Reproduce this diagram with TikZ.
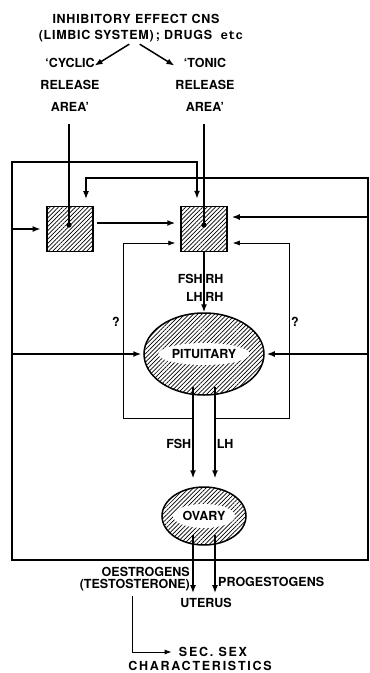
\documentclass[tikz,border=0pt]{standalone}
\usepackage{fontspec}
\setmainfont{TeX Gyre Heros}
\setmonofont{Liberation Mono}
\usetikzlibrary{positioning,arrows.meta,shapes.geometric,patterns.meta}

\begin{document}
\begin{tikzpicture}[
    x=1pt,
    y=-1pt,
    font=\bfseries\fontsize{12.5}{15}\selectfont,
    txt/.style={
        align=center,
        inner sep=1pt,
        font=\bfseries\fontsize{12.5}{#1}\selectfont
    },
    txt/.default=15,
    spaced/.style={
        txt,
        font=\bfseries\fontsize{12.5}{15}\selectfont\addfontfeatures{LetterSpace=#1}
    },
    area/.style={
        rectangle,
        draw=black,
        line width=1.5pt,
        minimum width=46pt,
        minimum height=45pt,
        pattern={Lines[angle=45,distance=3pt,line width=0.7pt]}
    },
    gland/.style={
        ellipse,
        draw=black,
        line width=1.5pt,
        inner sep=0pt,
        pattern={Lines[angle=45,distance=3pt,line width=0.7pt]}
    },
    clear/.style={
        ellipse,
        fill=white,
        inner sep=0pt
    },
    arrow/.style={
        -{Latex[length=8pt,width=6pt]},
        line width=1.5pt
    },
    thinarrow/.style={
        -{Latex[length=7pt,width=5pt]},
        line width=0.7pt
    }
]

\useasboundingbox (0,0) rectangle (370,673);

% Higher centres and release areas
\node[txt=16, font=\bfseries\fontsize{12.5}{16}\selectfont\addfontfeatures{LetterSpace=6}] (inhib) at (141,28)
    {\hspace*{-10pt}INHIBITORY EFFECT CNS\\(LIMBIC SYSTEM)\,; DRUGS\ \ {\ttfamily etc}};
\node[txt=22] (cyclic) at (70,85) {`CYCLIC\\RELEASE\\AREA'};
\node[txt=22] (tonic) at (205,85) {`TONIC\\RELEASE\\AREA'};

\node[area] (cycbox) at (70,229) {};
\node[area] (tonbox) at (204,229) {};
\coordinate (cycdot) at (69,225);
\coordinate (tondot) at (204,225);

% Glands
\node[gland, minimum width=120pt, minimum height=82pt] (pituitary) at (204,354) {};
\node[clear, minimum width=88pt, minimum height=22pt] (pitlabel) at (pituitary) {PITUITARY};
\node[gland, minimum width=84pt, minimum height=58pt] (ovary) at (204,516) {};
\node[clear, minimum width=62pt, minimum height=24pt] (ovlabel) at (ovary) {OVARY};

% Targets
\node[txt] (uterus) at (206,603) {UTERUS};
\node[txt=12, align=right, anchor=east] (oestro) at (191,579) {OESTROGENS\\(TESTOSTERONE)};
\node[txt, anchor=west] (progest) at (217,582) {PROGESTOGENS};
\node[spaced=14] (secsex) at (213,652) {SEC.\ SEX};
\node[spaced=14] (chars) at (200,666) {CHARACTERISTICS};
\node[txt] (qmarkl) at (116,322) {?};
\node[txt] (qmarkr) at (295,322) {?};

% Frame corners and helper points
\coordinate (ftl) at (12,162);
\coordinate (ftr) at (368,178);
\coordinate (fbl) at (12,560);
\coordinate (fbr) at (368,560);
\coordinate (loopl) at (123,418);
\coordinate (loopr) at (289,418);
\coordinate (fshx) at (193,387);
\coordinate (lhx) at (215,387);
\coordinate (fsho) at (193,535);
\coordinate (lho) at (215,535);
\coordinate (secturn) at (132,648);
\coordinate (tonin) at ([yshift=12pt]tonbox.east);
\coordinate (tonlw) at ([yshift=-14pt]tonbox.west);
\coordinate (tonle) at ([yshift=-14pt]tonbox.east);

% Inhibition and release areas
\draw[arrow, shorten <=2pt, shorten >=1pt] ([xshift=-10pt]inhib.south) -- ([xshift=-7pt,yshift=-9pt]cyclic.north east);
\draw[arrow, shorten <=2pt, shorten >=1pt] ([xshift=-3pt]inhib.south) -- ([xshift=1pt,yshift=-9pt]tonic.north west);
\draw[line width=1.5pt, shorten <=11pt] (cyclic.south -| cycdot) -- (cycdot);
\fill (cycdot) circle (2.6pt);
\draw[line width=1.5pt, shorten <=11pt] (tonic.south -| tondot) -- (tondot);
\fill (tondot) circle (2.6pt);

% Steroid feedback frame
\draw[arrow, line cap=rect, shorten >=7pt] (ftr) -- (fbr) -- (fbl) -- (ftl) -| ([xshift=-7pt]tonbox.north);
\draw[arrow, line cap=rect, shorten >=7pt] (ftr) -| ([xshift=16pt]cycbox.north);
\draw[arrow, shorten >=6pt] (cycbox.west -| fbl) -- (cycbox.west);
\draw[arrow, shorten >=4pt] (tonin -| fbr) -- (tonin);
\draw[arrow, shorten >=2pt] (pituitary.west -| fbl) -- (pituitary.west);
\draw[arrow, shorten >=2pt] (pituitary.east -| fbr) -- (pituitary.east);
\draw[arrow, shorten <=4pt, shorten >=5pt] ([yshift=6pt]cycbox.east) -- ([yshift=6pt]tonbox.west);

% Short loop from gonadotrophins
\draw[thinarrow, shorten >=5pt] (fshx |- loopl) -- (loopl) |- (tonlw);
\draw[thinarrow, shorten >=5pt] (lhx |- loopr) -- (loopr) |- (tonle);

% Releasing hormones and gonadotrophins
\draw[arrow] (tonbox.south) -- (pituitary.north)
    node[pos=0.44, left, inner sep=0.5pt] {FSH} node[pos=0.44, right, inner sep=0.5pt] {RH}
    node[pos=0.74, left, inner sep=0.5pt] {LH} node[pos=0.74, right, inner sep=0.5pt] {RH};
\draw[arrow, shorten >=8pt] (fshx) -- (fshx |- ovary.north) node[pos=0.57, left, inner sep=1pt] {FSH};
\draw[arrow, shorten >=8pt] (lhx) -- (lhx |- ovary.north) node[pos=0.57, right, inner sep=1pt] {LH};

% Ovarian steroids
\draw[arrow, shorten >=4pt] (fsho) -- (fsho |- uterus.north);
\draw[arrow, shorten >=4pt] (lho) -- (lho |- uterus.north);
\draw[arrow, line width=1pt, -{Latex[length=7pt,width=5pt]}, shorten <=4pt, shorten >=6pt] (oestro.south -| secturn) |- (secsex.west);

\end{tikzpicture}
\end{document}
